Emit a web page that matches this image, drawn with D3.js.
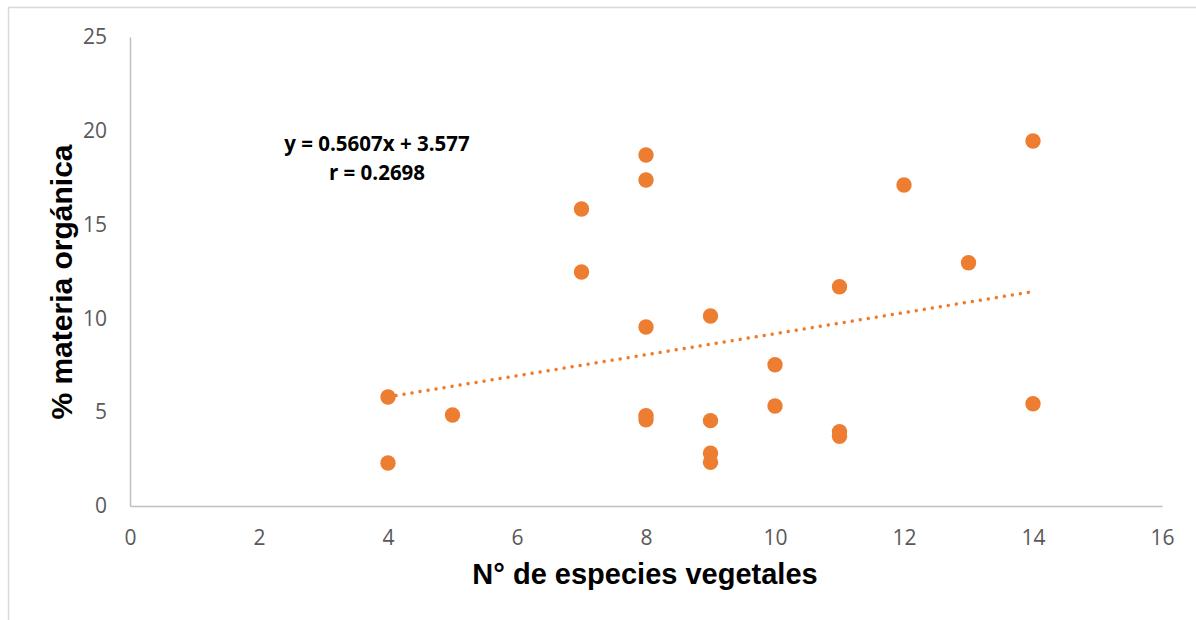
<!DOCTYPE html>
<html>
<head>
<meta charset="utf-8">
<script src="https://cdn.jsdelivr.net/npm/d3@7"></script>
<style>
  html, body { margin: 0; padding: 0; background: #fff; }
  svg { display: block; }
</style>
</head>
<body>
<svg id="chart" width="1196" height="620"></svg>
<script>
// Number of plant species per plot (x) and % organic matter (y)
const especies = [4, 4, 5, 7, 7, 8, 8, 8, 8, 8, 9, 9, 9, 9, 10, 10, 11, 11, 11, 12, 13, 14, 14];
const materiaOrganica = [5.81, 2.29, 4.85, 15.83, 12.47, 18.71, 17.38, 9.54, 4.82, 4.60, 10.13, 4.55, 2.81, 2.33, 7.53, 5.33, 11.69, 3.96, 3.72, 17.11, 12.97, 19.46, 5.45];

// Linear fit reported on the chart
const pendiente = 0.5607;
const intercepto = 3.577;
const rValor = 0.2698;
const rangoAjuste = [4, 14];

const xTicks = [0, 2, 4, 6, 8, 10, 12, 14, 16];
const yTicks = [0, 5, 10, 15, 20, 25];

const svg = d3.select("#chart");

// light outer frame
svg.append("rect")
  .attr("x", 8.5).attr("y", 7.5)
  .attr("width", 1300).attr("height", 700)
  .attr("fill", "none")
  .attr("stroke", "#d9d9d9")
  .attr("stroke-width", 1.5);

const x = d3.scaleLinear().domain([0, 16]).range([130, 1162]);
const y = d3.scaleLinear().domain([0, 25]).range([506, 37]);

const axisColor = "#bfbfbf";
const tickFont = "'Open Sans', sans-serif";

// x axis
const gx = svg.append("g").attr("transform", `translate(0,${y(0)})`)
  .call(d3.axisBottom(x).tickValues(xTicks).tickSize(0).tickPadding(24));
gx.select(".domain").attr("stroke", axisColor).attr("stroke-width", 1.5);
gx.selectAll("text")
  .attr("fill", "#595959").attr("font-size", 21).attr("font-family", tickFont);

// y axis
const gy = svg.append("g").attr("transform", `translate(${x(0)},0)`)
  .call(d3.axisLeft(y).tickValues(yTicks).tickSize(0).tickPadding(23));
gy.select(".domain").attr("stroke", axisColor).attr("stroke-width", 1.5);
gy.selectAll("text")
  .attr("fill", "#595959").attr("font-size", 21).attr("font-family", tickFont);

// trend line (dotted)
svg.append("line")
  .attr("x1", x(rangoAjuste[0])).attr("y1", y(pendiente * rangoAjuste[0] + intercepto))
  .attr("x2", x(rangoAjuste[1])).attr("y2", y(pendiente * rangoAjuste[1] + intercepto))
  .attr("stroke", "#ed7d31")
  .attr("stroke-width", 3.5)
  .attr("stroke-linecap", "round")
  .attr("stroke-dasharray", "0.01 8.1");

// points
const datos = especies.map((e, i) => ({ x: e, y: materiaOrganica[i] }));
svg.append("g").selectAll("circle")
  .data(datos)
  .join("circle")
  .attr("cx", d => x(d.x))
  .attr("cy", d => y(d.y))
  .attr("r", 7.7)
  .attr("fill", "#ed7d31");

// equation label
const eq = svg.append("text")
  .attr("text-anchor", "middle")
  .attr("font-family", tickFont)
  .attr("font-weight", "bold")
  .attr("font-size", 20.5)
  .attr("fill", "#000");
eq.append("tspan").attr("x", 377).attr("y", 151)
  .text(`y = ${pendiente}x + ${intercepto}`);
eq.append("tspan").attr("x", 377).attr("y", 180)
  .text(`r = ${rValor}`);

// axis titles
svg.append("text")
  .attr("x", 645).attr("y", 584)
  .attr("text-anchor", "middle")
  .attr("font-family", "'Liberation Sans', Arial, sans-serif")
  .attr("font-weight", "bold")
  .attr("font-size", 29)
  .attr("fill", "#000")
  .text("N° de especies vegetales");

svg.append("text")
  .attr("transform", `translate(72,282) rotate(-90)`)
  .attr("text-anchor", "middle")
  .attr("font-family", "'Liberation Sans', Arial, sans-serif")
  .attr("font-weight", "bold")
  .attr("font-size", 30)
  .attr("fill", "#000")
  .text("% materia orgánica");
</script>
</body>
</html>
